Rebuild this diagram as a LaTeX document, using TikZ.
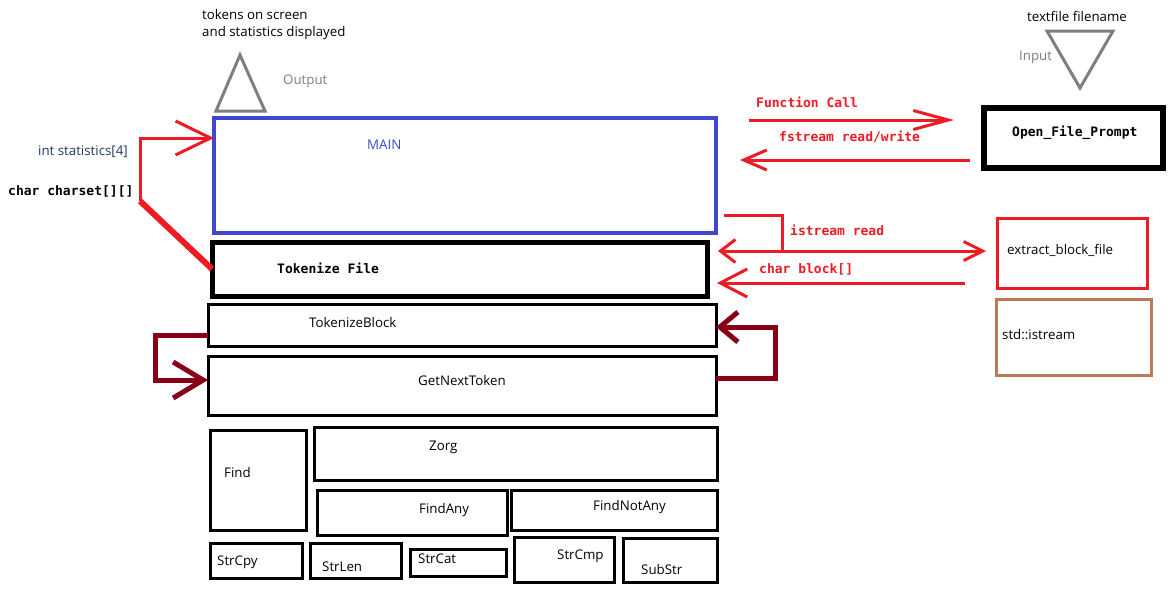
\documentclass[tikz,border=0pt]{standalone}
\usepackage{fontspec}
\setmainfont{Open Sans}
\newfontfamily\codefont{DejaVu Sans Mono}
\usetikzlibrary{arrows.meta,calc}
\definecolor{arrowred}{HTML}{ED1C24}
\definecolor{loopred}{HTML}{880015}
\definecolor{mainblue}{HTML}{3F48CC}
\definecolor{muted}{HTML}{7F7F7F}
\definecolor{brownish}{HTML}{B97A57}
\definecolor{navy}{HTML}{1F3864}
\tikzset{x=1pt,y=-1pt,
  box/.style={draw,rectangle,inner sep=0pt,outer sep=0pt,line width=3pt},
  txt/.style={anchor=west,inner sep=0pt,font=\fontsize{13.3}{17}\selectfont},
  code/.style={anchor=west,inner sep=0pt,font=\codefont\bfseries\fontsize{13}{15}\selectfont},
  flow/.style={draw=arrowred,line width=3pt},
  backflow/.style={draw=loopred,line width=5pt},
  barb/.style 2 args={-{Straight Barb[length=#1,width=#2]}}}

\begin{document}
\begin{tikzpicture}
\useasboundingbox[fill=white] (0,0) rectangle (1171,590);
% main program and the tokenizer stack
\node[box,draw=mainblue,line width=4pt,minimum width=502,minimum height=115] (main) at (465,175.5) {};
\node[box,line width=5pt,minimum width=495,minimum height=54] (tokfile) at (459.5,269) {};
\node[box,minimum width=508,minimum height=42] (tokblock) at (462,325) {};
\node[box,minimum width=508,minimum height=59] (getnext) at (462,385.5) {};
\node[box,minimum width=96,minimum height=100] (find) at (258,480) {};
\node[box,minimum width=403,minimum height=53] (zorg) at (515.5,453.5) {};
\node[box,minimum width=190,minimum height=45] (findany) at (412,512.5) {};
\node[box,minimum width=206,minimum height=40] (findnotany) at (614,510) {};
\node[box,minimum width=92,minimum height=35] (strcpy) at (256,560.5) {};
\node[box,minimum width=91,minimum height=35] (strlen) at (355.5,560.5) {};
\node[box,minimum width=96,minimum height=27] (strcat) at (458,562.5) {};
\node[box,minimum width=100,minimum height=45] (strcmp) at (564,559.5) {};
\node[box,minimum width=94,minimum height=44] (substr) at (670,560) {};
% file side
\node[box,line width=6pt,minimum width=179,minimum height=60] (openfile) at (1073.5,138) {};
\node[box,draw=arrowred,minimum width=150,minimum height=70] (extract) at (1072,253) {};
\node[box,draw=brownish,minimum width=155,minimum height=76] (istream) at (1073.5,337) {};

\node[txt,mainblue] (mainlbl) at (367,145) {MAIN};
\node[code] (tokfilelbl) at (277,268) {Tokenize File};
\node[txt] (tokblocklbl) at (309,323) {TokenizeBlock};
\node[txt] (getnextlbl) at (418,381) {GetNextToken};
\node[txt] (findlbl) at (224,473) {Find};
\node[txt] (zorglbl) at (429,447) {Zorg};
\node[txt] (findanylbl) at (419,510) {FindAny};
\node[txt] (findnotanylbl) at (593,507) {FindNotAny};
\node[txt] (strcpylbl) at (217,562) {StrCpy};
\node[txt] (strlenlbl) at (322,567) {StrLen};
\node[txt] (strcatlbl) at (418,559) {StrCat};
\node[txt] (strcmplbl) at (557,556) {StrCmp};
\node[txt] (substrlbl) at (641,570) {SubStr};
\node[code] (openfilelbl) at (1012,133) {Open\_File\_Prompt};
\node[txt] (extractlbl) at (1007,250) {extract\_block\_file};
\node[txt] (istreamlbl) at (1002,335) {std::istream};

% output and input
\draw[muted,line width=3pt] (240,55) -- (265,111) -- (216,111) -- cycle;
\node[txt,muted] (outlbl) at (283,81) {Output};
\node[txt,align=left] (screenlbl) at (202,24.5) {tokens on screen\\and statistics displayed};
\draw[muted,line width=3pt] (1047,31) -- (1113,31) -- (1080,88) -- cycle;
\node[txt,muted] (inlbl) at (1019,57) {Input};
\node[txt,anchor=center] (filenamelbl) at (1077,16) {textfile filename};

% calls between main and the file functions
\draw[flow,barb={35pt}{19pt},shorten <=33pt,shorten >=30pt] (main.east |- 0,120) -- (openfile.west |- 0,120);
\node[code,text=arrowred] (calllbl) at (756,102) {Function Call};
\draw[flow,barb={23pt}{20pt},shorten <=14pt,shorten >=24pt] (openfile.west |- 0,160) -- (main.east |- 0,160);
\node[code,text=arrowred] (fstreamlbl) at (779,137) {fstream read/write};
\coordinate (split) at (782,251);
\draw[flow,barb={19pt}{19pt},shorten <=8pt,shorten >=11pt] (main.east |- 0,215) -| (split) -- (extract.west |- split);
\draw[flow,barb={15pt}{23pt},shorten >=11pt] (split) -- (tokfile.east |- split);
\node[code,text=arrowred] (readlbl) at (790,230) {istream read};
\draw[flow,barb={27pt}{28pt},shorten <=32pt,shorten >=10pt] (extract.west |- 0,283) -- (tokfile.east |- 0,283);
\node[code,text=arrowred] (blocklbl) at (759,269) {char block[]};

% arguments passed in
\coordinate (argjoin) at (140,201);
\draw[flow,barb={35pt}{34pt}] (argjoin) |- (main.west |- 0,138);
\draw[flow,line width=6pt] (argjoin) -- (tokfile.west);
\node[txt,text=navy] (statslbl) at (38,152) {int statistics[4]};
\node[code] (charsetlbl) at (8,191) {char charset[][]};

% tokenizer loop
\draw[backflow,barb={30pt}{36pt}] (tokblock.west |- 0,335) -- ++(-53,0) |- (getnext.west |- 0,380);
\draw[backflow,barb={18pt}{30pt}] (getnext.east |- 0,378) -- ++(59,0) |- (tokblock.east |- 0,327);
\end{tikzpicture}
\end{document}
